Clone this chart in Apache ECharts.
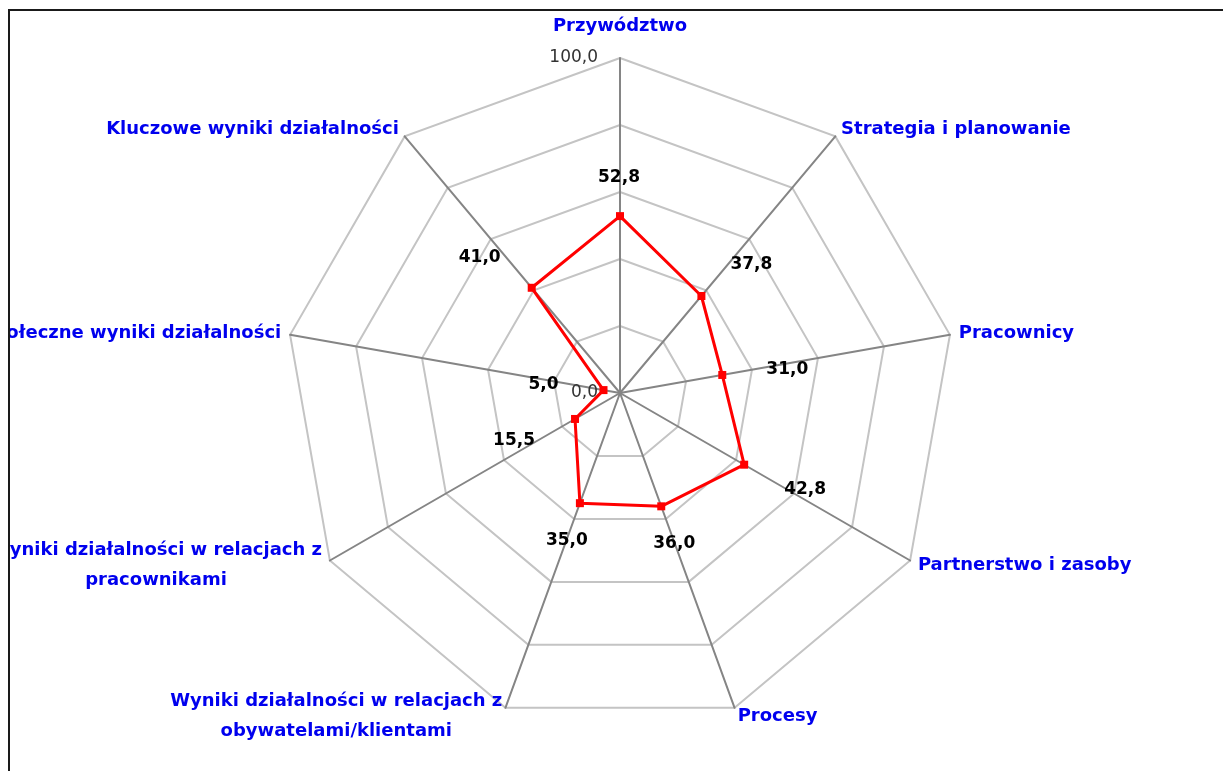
<!DOCTYPE html>
<html>
<head>
<meta charset="utf-8">
<script src="https://cdn.jsdelivr.net/npm/echarts@6/dist/echarts.min.js"></script>
<style>
  html, body { margin: 0; padding: 0; background: #fff; width: 1223px; height: 771px; overflow: hidden; }
  #frame { position: absolute; left: 8px; top: 9px; width: 1300px; height: 800px; border-left: 2px solid #1a1a1a; border-top: 2px solid #1a1a1a; }
  #chart { position: absolute; left: 10px; top: 11px; width: 1213px; height: 760px; }
</style>
</head>
<body>
<div id="frame"></div>
<div id="chart"></div>
<script>
// ---- data (clockwise from the top) ----
const axisNames = [
  'Przywództwo',
  'Strategia i planowanie',
  'Pracownicy',
  'Partnerstwo i zasoby',
  'Procesy',
  'Wyniki działalności w relacjach z\nobywatelami/klientami',
  'Wyniki działalności w relacjach z\npracownikami',
  'Społeczne wyniki działalności',
  'Kluczowe wyniki działalności'
];
const scores = [52.8, 37.8, 31.0, 42.8, 36.0, 35.0, 15.5, 5.0, 41.0];
const scaleMin = 0;
const scaleMax = 100;
const scaleSplits = 5;

// ---- layout / style (not data) ----
const CX = 610, CY = 382, R = 335;
const labelOffsets = [[-1,-39],[50,-31],[65,-5],[61,25],[13,37],[-13,37],[-61,22],[-60,-6],[-52,-30]];

const fmt = v => Number(v).toFixed(1).replace('.', ',');
// ECharts radar runs counter-clockwise: reorder so the picture runs clockwise
const order = [0].concat(axisNames.map((_, i) => i).slice(1).reverse());
const orderedValues = order.map(i => scores[i]);
const posOf = k => order.indexOf(k);

const nameFont = { color: '#0000ee', fontFamily: 'DejaVu Sans', fontWeight: 'bold', fontSize: 18 };

const labelSeries = scores.map((_, k) => ({
  type: 'radar',
  silent: true,
  z: 5,
  symbol: 'circle',
  symbolSize: 1,
  itemStyle: { color: 'rgba(0,0,0,0)' },
  lineStyle: { opacity: 0, width: 0 },
  label: {
    show: true,
    position: 'inside',
    offset: labelOffsets[k],
    color: '#000',
    fontFamily: 'DejaVu Sans',
    fontWeight: 'bold',
    fontSize: 17,
    formatter: p => (p.dimensionIndex === posOf(k) ? fmt(p.value) : '')
  },
  data: [{ value: orderedValues }]
}));

const chart = echarts.init(document.getElementById('chart'), null, { renderer: 'canvas' });
chart.setOption({
  animation: false,
  backgroundColor: 'transparent',
  radar: {
    center: [CX, CY],
    radius: R,
    startAngle: 90,
    shape: 'polygon',
    splitNumber: scaleSplits,
    nameGap: 9,
    indicator: order.map(i => ({ name: axisNames[i], min: scaleMin, max: scaleMax })),
    axisName: Object.assign({}, nameFont, {
      formatter: function (name) {
        if (name === axisNames[0]) return '{top|' + name + '}';
        if (name.indexOf('\n') >= 0) return name.split('\n').map(s => '{c|' + s + '}').join('\n');
        return name;
      },
      rich: {
        top: Object.assign({}, nameFont, { padding: [0, 0, 14, 0] }),
        c: Object.assign({}, nameFont, { align: 'center', lineHeight: 30 })
      }
    }),
    axisLine: { lineStyle: { color: '#858585', width: 2 } },
    splitLine: { lineStyle: { color: '#c4c4c4', width: 2 } },
    splitArea: { show: false },
    axisTick: { show: false },
    axisLabel: { show: false }
  },
  polar: { center: [CX, CY], radius: R },
  angleAxis: { type: 'value', min: 0, max: 360, startAngle: 90, show: false },
  radiusAxis: {
    type: 'value', min: scaleMin, max: scaleMax, interval: scaleMax - scaleMin,
    axisLine: { show: false }, axisTick: { show: false }, splitLine: { show: false },
    z: 6,
    axisLabel: { show: true, margin: 22, color: '#333', fontFamily: 'DejaVu Sans', fontSize: 17, formatter: v => fmt(v) }
  },
  series: [{
    type: 'radar',
    z: 4,
    symbol: 'rect',
    symbolSize: 8,
    itemStyle: { color: '#ff0000' },
    lineStyle: { color: '#ff0000', width: 3 },
    label: { show: false },
    data: [{ value: orderedValues }]
  }].concat(labelSeries)
});
</script>
</body>
</html>
